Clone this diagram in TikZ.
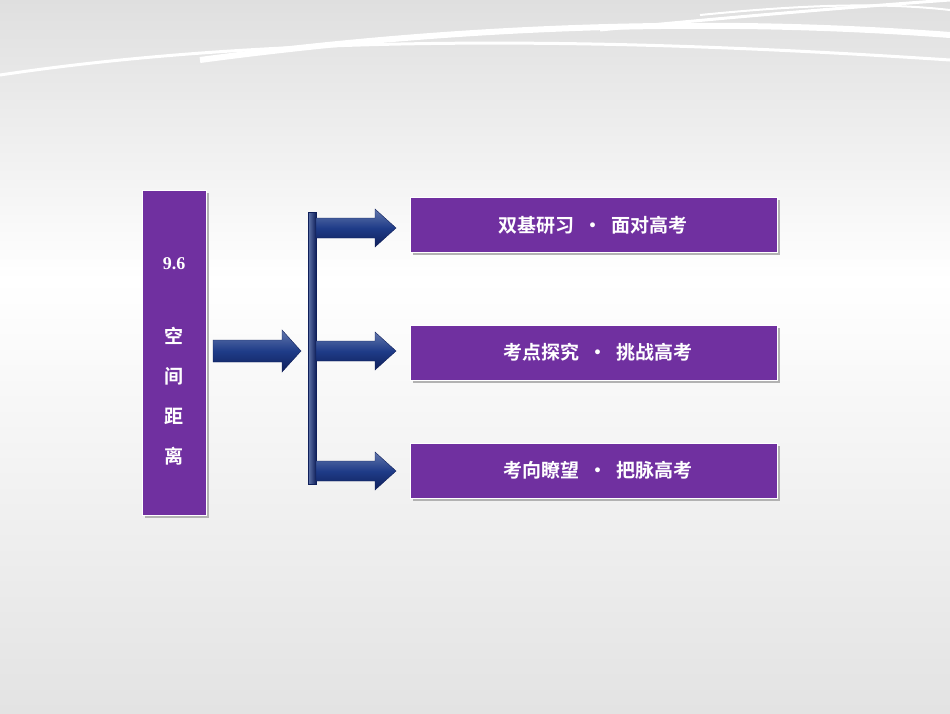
\documentclass[tikz,border=0pt]{standalone}
\usepackage{fontspec}
\setmainfont{Liberation Serif}
\newfontfamily\cjk{Noto Sans CJK SC}[BoldFont={Noto Sans CJK SC Bold}]
\definecolor{boxpurple}{HTML}{7030A0}
\definecolor{navy}{HTML}{1F3C88}
\definecolor{navyd}{HTML}{0F1F5A}
\tikzset{
 box/.style={fill=boxpurple,draw=white,line width=0.8pt,inner sep=0pt},
 arr/.style={top color=navy!70!white,bottom color=navyd,middle color=navy,draw=navyd,line width=0.4pt},
 lbl/.style={text=white,font=\cjk\bfseries\fontsize{19}{22}\selectfont},
 swoosh/.style={white,line width=3pt}
}
\begin{document}
\begin{tikzpicture}[x=1pt,y=-1pt]
\useasboundingbox (0,0) rectangle (950,713);
\shade[top color=gray!25,bottom color=white] (0,0) rectangle (950,280);
\shade[top color=white,bottom color=gray!22] (0,280) rectangle (950,713);
% swooshes
\draw[swoosh] (0,75) .. controls (300,30) and (650,40) .. (950,60);
\draw[white,line width=6pt] (200,60) .. controls (500,20) and (750,20) .. (950,35);
\draw[swoosh] (600,30) .. controls (750,15) and (880,5) .. (950,0);
\draw[white,line width=2pt] (700,15) .. controls (800,5) and (880,2) .. (950,10);
% left box
\fill[gray!60] (145,193) rectangle (209,518);
\node[box,minimum width=64pt,minimum height=325pt,anchor=north west] (L) at (142,190) {};
\node[text=white,font=\bfseries\fontsize{18}{20}\selectfont] (n96) at (174,264) {9.6};
\node[text=white,font=\cjk\bfseries\fontsize{19}{40}\selectfont,align=center] (title) at (174,396) {空\\间\\距\\离};
% boxes
\foreach \y in {197,325,443}{\fill[gray!60] (413,\y+3) rectangle (780,\y+58);}
\node[box,minimum width=367pt,minimum height=55pt,anchor=north west] (b1) at (410,197) {};
\node[box,minimum width=367pt,minimum height=55pt,anchor=north west] (b2) at (410,325) {};
\node[box,minimum width=367pt,minimum height=55pt,anchor=north west] (b3) at (410,443) {};
\node[lbl] (t1) at (593,225) {双基研习 ~·~ 面对高考};
\node[lbl] (t2) at (598,352) {考点探究 ~·~ 挑战高考};
\node[lbl] (t3) at (598,470) {考向瞭望 ~·~ 把脉高考};
% main arrow
\shade[arr] (213,340) -- (282,340) -- (282,330) -- (301,351) -- (282,372) -- (282,362) -- (213,362) -- cycle;
% vertical bar
\shade[left color=navy!70!white,right color=navyd,draw=navyd,line width=0.4pt] (308,212) rectangle (316,484);
% branch arrows
\foreach \y in {228,351,471}{
 \shade[arr] (316,\y-10) -- (375,\y-10) -- (375,\y-19) -- (396,\y) -- (375,\y+19) -- (375,\y+10) -- (316,\y+10) -- cycle;
}
\end{tikzpicture}
\end{document}
